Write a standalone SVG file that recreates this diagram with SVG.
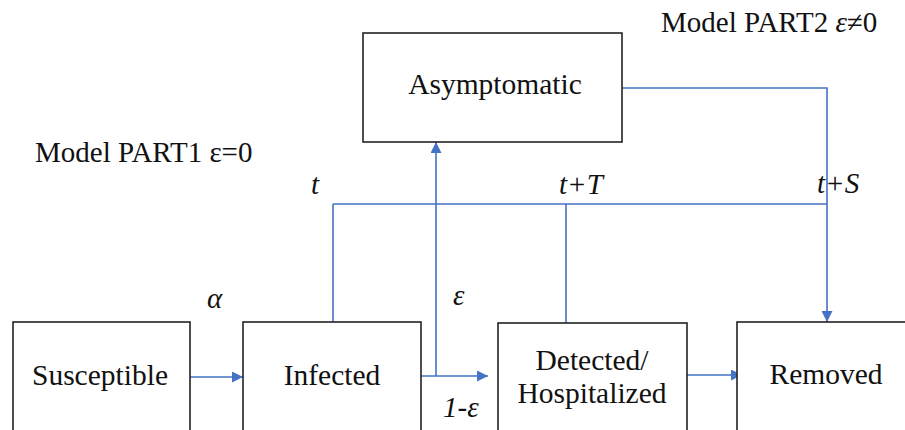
<svg xmlns="http://www.w3.org/2000/svg" width="905" height="430" viewBox="0 0 905 430">
<defs>
<marker id="ah" viewBox="0 0 10 10" refX="10" refY="5" markerWidth="11" markerHeight="11" markerUnits="userSpaceOnUse" orient="auto">
<path d="M0,0 L10,5 L0,10 z" fill="#4472C4"/>
</marker>
</defs>
<style>
text{font-family:'Liberation Serif','Times New Roman',serif}
.box{fill:#fff;stroke:#222;stroke-width:1.6}
.lbl{font-size:29.5px;fill:#111;text-anchor:middle}
.note{font-size:29px;fill:#111}
.it{font-size:29px;font-style:italic;fill:#111}
.c{fill:none;stroke:#4472C4;stroke-width:1.6}
.a{marker-end:url(#ah)}
</style>
<rect width="905" height="430" fill="#fff"/>
<g id="connectors">
<line class="c a" x1="190" y1="377" x2="243" y2="377"/>
<line class="c a" x1="421" y1="376" x2="488" y2="376"/>
<line class="c a" x1="436" y1="376" x2="436" y2="142"/>
<line class="c a" x1="687" y1="375" x2="742" y2="375"/>
<polyline class="c a" points="622,88 827,88 827,322"/>
<line class="c" x1="333" y1="204" x2="827" y2="204"/>
<line class="c" x1="333" y1="204" x2="333" y2="322"/>
<line class="c" x1="566" y1="204" x2="566" y2="323"/>
</g>
<g id="susceptible">
<rect class="box" x="13" y="322" width="177" height="120"/>
<text class="lbl" x="100" y="385">Susceptible</text>
</g>
<g id="infected">
<rect class="box" x="243" y="322" width="178" height="120"/>
<text class="lbl" x="332" y="385">Infected</text>
</g>
<g id="detected">
<rect class="box" x="498" y="323" width="189" height="120"/>
<text class="lbl" x="592" y="370">Detected/</text>
<text class="lbl" x="592" y="403">Hospitalized</text>
</g>
<g id="removed">
<rect class="box" x="737" y="322" width="172" height="120"/>
<text class="lbl" x="826" y="384">Removed</text>
</g>
<g id="asymptomatic">
<rect class="box" x="363" y="33" width="259" height="109"/>
<text class="lbl" x="495" y="94">Asymptomatic</text>
</g>
<g id="labels">
<text class="note" x="35" y="162">Model PART1 ε=0</text>
<text class="note" x="661" y="32">Model PART2 <tspan font-style="italic">ε</tspan>≠0</text>
<text class="it" x="311" y="194">t</text>
<text class="it" x="559" y="194">t+T</text>
<text class="it" x="817" y="193">t+S</text>
<text class="it" x="207" y="308">α</text>
<text class="it" x="453" y="305">ε</text>
<text class="it" x="443" y="417">1-ε</text>
</g>
</svg>
